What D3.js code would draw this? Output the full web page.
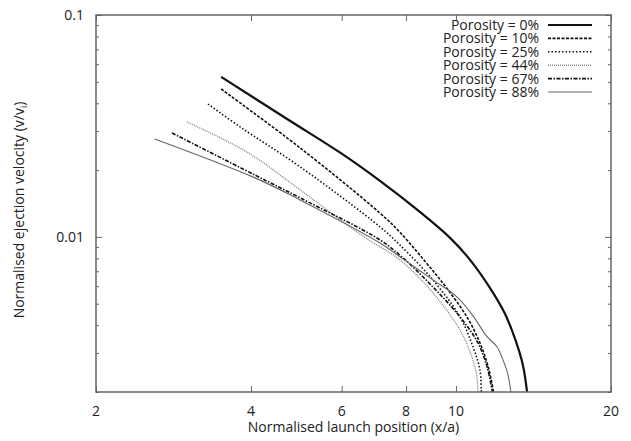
<!DOCTYPE html>
<html>
<head>
<meta charset="utf-8">
<script src="https://cdn.jsdelivr.net/npm/d3@7"></script>
<style>
  body { margin: 0; background: #fff; }
  text { font-family: "Open Sans", "DejaVu Sans", sans-serif; fill: #222; }
</style>
</head>
<body>
<div id="chart"></div>
<script>
// series (x = launch position x/a, y = ejection velocity v/vi)
var labels = ["Porosity = 0%", "Porosity = 10%", "Porosity = 25%", "Porosity = 44%", "Porosity = 67%", "Porosity = 88%"];

var x0 = [3.50, 4.70, 5.97, 7.12, 8.51, 9.74, 10.65, 11.64, 12.45, 13.08, 13.5, 13.74];
var y0 = [0.0526, 0.0340, 0.0239, 0.01788, 0.01296, 0.0099, 0.00788, 0.00589, 0.0045, 0.00337, 0.00262, 0.002];

var x10 = [3.50, 4.98, 7.12, 7.78, 9.02, 9.61, 10.5, 11.13, 11.55, 11.83];
var y10 = [0.0464, 0.0252, 0.0128, 0.0105, 0.00703, 0.00585, 0.00436, 0.00333, 0.0026, 0.002];

var x25 = [3.30, 3.81, 4.98, 7.12, 7.78, 9.02, 10.18, 10.79, 11.13, 11.2];
var y25 = [0.0397, 0.0313, 0.0207, 0.0111, 0.0092, 0.0064, 0.00436, 0.0032, 0.00252, 0.002];

var x44 = [3.00, 3.93, 4.98, 6.59, 7.78, 9.02, 10.18, 10.65, 10.94, 11.04];
var y44 = [0.0330, 0.0241, 0.0163, 0.0101, 0.00788, 0.0056, 0.00381, 0.00303, 0.00247, 0.002];

var x67 = [2.81, 4.07, 4.98, 7.12, 7.89, 9.02, 10.18, 11.03, 11.49, 11.77];
var y67 = [0.0294, 0.0190, 0.0150, 0.00969, 0.00804, 0.00595, 0.00436, 0.00333, 0.0026, 0.002];

var x88 = [2.60, 4.07, 4.98, 7.12, 7.89, 9.02, 10.04, 10.79, 11.49, 12.01, 12.34, 12.62, 12.78];
var y88 = [0.0276, 0.01845, 0.01468, 0.00939, 0.00796, 0.0064, 0.00537, 0.00441, 0.00355, 0.0032, 0.00279, 0.00239, 0.002];

var xTicks = [2, 4, 6, 8, 10, 20];
var yTicks = [0.002, 0.003, 0.004, 0.005, 0.006, 0.007, 0.008, 0.009,
              0.01, 0.02, 0.03, 0.04, 0.05, 0.06, 0.07, 0.08, 0.09, 0.1];
var yLabelled = [0.01, 0.1];

var W = 631, H = 441;
var m = { left: 96, right: 20, top: 15, bottom: 49 };

var svg = d3.select("#chart").append("svg")
  .attr("width", W)
  .attr("height", H);

var x = d3.scaleLog().domain([2, 20]).range([m.left, W - m.right]);
var y = d3.scaleLog().domain([0.002, 0.1]).range([H - m.bottom, m.top]);

var series = [
  { xs: x0,  ys: y0,  color: "#111", width: 2.2, dash: null },
  { xs: x10, ys: y10, color: "#111", width: 1.6, dash: "3,1.5" },
  { xs: x25, ys: y25, color: "#111", width: 1.6, dash: "1.5,2" },
  { xs: x44, ys: y44, color: "#888", width: 1.4, dash: "1,1" },
  { xs: x67, ys: y67, color: "#111", width: 1.6, dash: "4,1.5,1.5,1.5" },
  { xs: x88, ys: y88, color: "#666", width: 1.1, dash: null }
];

svg.append("clipPath").attr("id", "plotclip")
  .append("rect")
  .attr("x", m.left).attr("y", m.top)
  .attr("width", W - m.left - m.right)
  .attr("height", H - m.top - m.bottom);

var line = d3.line()
  .x(d => x(d[0]))
  .y(d => y(d[1]))
  .curve(d3.curveCatmullRom.alpha(0.5));

svg.append("g").attr("clip-path", "url(#plotclip)")
  .selectAll("path")
  .data(series)
  .enter().append("path")
  .attr("d", s => line(d3.zip(s.xs, s.ys)))
  .attr("fill", "none")
  .attr("stroke", s => s.color)
  .attr("stroke-width", s => s.width)
  .attr("stroke-dasharray", s => s.dash);

// ticks, drawn inward on all four sides (gnuplot style)
var isMajor = v => yLabelled.indexOf(v) >= 0;
var axisColor = "#666";

svg.append("g")
  .attr("transform", "translate(" + m.left + ",0)")
  .call(d3.axisRight(y).tickValues(yTicks).tickFormat("").tickSizeOuter(0)
    .tickSize(3));
svg.append("g")
  .attr("transform", "translate(" + (W - m.right) + ",0)")
  .call(d3.axisLeft(y).tickValues(yTicks).tickFormat("").tickSizeOuter(0)
    .tickSize(3));
svg.append("g")
  .attr("transform", "translate(0," + (H - m.bottom) + ")")
  .call(d3.axisTop(x).tickValues(xTicks).tickFormat("").tickSizeOuter(0).tickSize(6));
svg.append("g")
  .attr("transform", "translate(0," + m.top + ")")
  .call(d3.axisBottom(x).tickValues(xTicks).tickFormat("").tickSizeOuter(0).tickSize(6));

svg.selectAll(".tick line").attr("stroke", axisColor).attr("stroke-width", 1);
svg.selectAll(".domain").remove();
// longer ticks for the labelled decades
svg.selectAll(".tick").filter(d => isMajor(d)).select("line")
  .attr("x2", function () { return +d3.select(this).attr("x2") * 2; });

svg.append("rect")
  .attr("x", m.left).attr("y", m.top)
  .attr("width", W - m.left - m.right)
  .attr("height", H - m.top - m.bottom)
  .attr("fill", "none")
  .attr("stroke", axisColor)
  .attr("stroke-width", 1.5);

// tick labels
svg.append("g").selectAll("text")
  .data(yLabelled)
  .enter().append("text")
  .attr("x", m.left - 12)
  .attr("y", d => y(d))
  .attr("dy", "0.35em")
  .attr("text-anchor", "end")
  .style("font-size", "14px")
  .text(d => d);

svg.append("g").selectAll("text")
  .data(xTicks)
  .enter().append("text")
  .attr("x", d => x(d))
  .attr("y", H - m.bottom + 24)
  .attr("text-anchor", "middle")
  .style("font-size", "14px")
  .text(d => d);

// axis titles
svg.append("text")
  .attr("x", (m.left + W - m.right) / 2)
  .attr("y", H - 9)
  .attr("text-anchor", "middle")
  .style("font-size", "14px")
  .text("Normalised launch position (x/a)");

var yt = svg.append("text")
  .attr("transform", "translate(24," + 210 + ") rotate(-90)")
  .attr("text-anchor", "middle")
  .style("font-size", "14px");
yt.append("tspan").text("Normalised ejection velocity (v/v");
yt.append("tspan").attr("dy", 3).style("font-size", "9px").text("i");
yt.append("tspan").attr("dy", -3).text(")");

// legend
var lg = svg.append("g").selectAll("g")
  .data(series)
  .enter().append("g")
  .attr("transform", (d, i) => "translate(0," + (25 + i * 13.4) + ")");

lg.append("text")
  .attr("x", 539)
  .attr("dy", "0.35em")
  .attr("text-anchor", "end")
  .style("font-size", "14px")
  .text((d, i) => labels[i]);

lg.append("line")
  .attr("x1", 548).attr("x2", 592)
  .attr("stroke", d => d.color)
  .attr("stroke-width", d => d.width)
  .attr("stroke-dasharray", d => d.dash);
</script>
</body>
</html>
